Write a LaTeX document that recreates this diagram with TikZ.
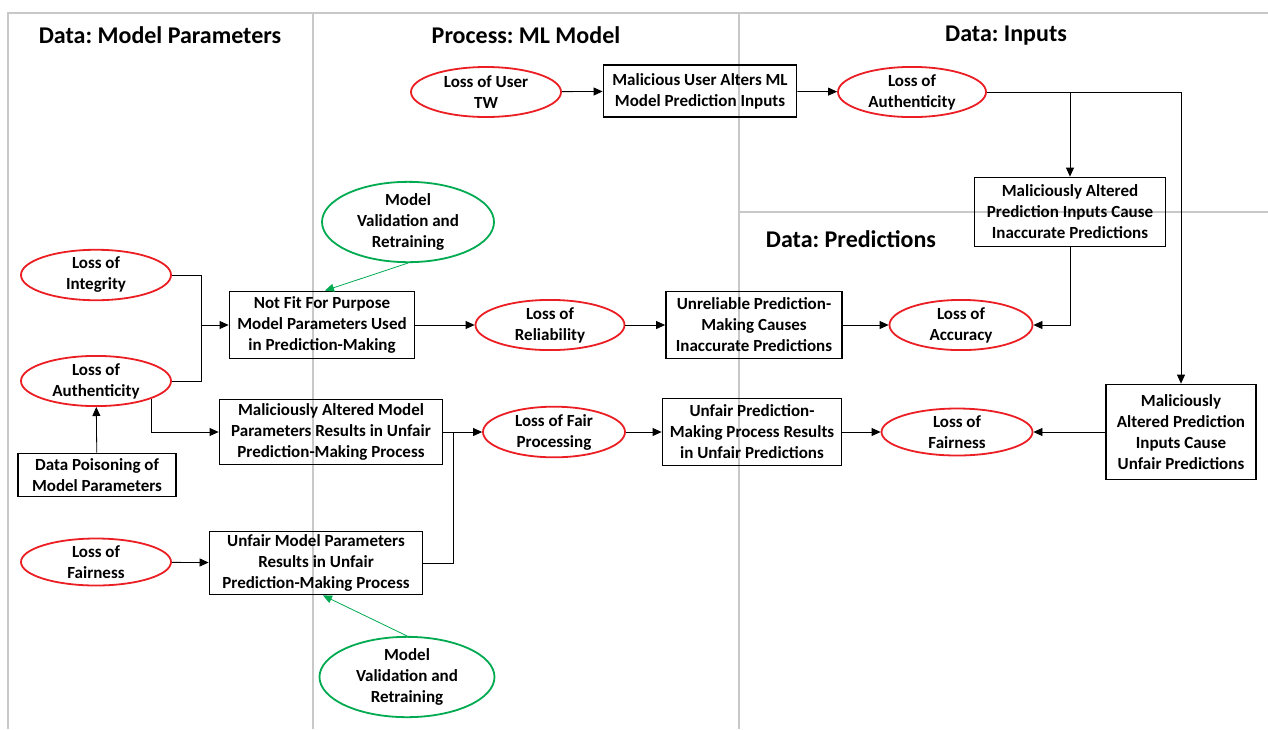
\documentclass[tikz,border=0pt]{standalone}
\usepackage{fontspec}
\setmainfont{Carlito}
\frenchspacing
\usetikzlibrary{shapes.geometric,arrows.meta,positioning}

\definecolor{lossred}{RGB}{235,30,35}
\definecolor{ctrlgreen}{RGB}{0,170,80}
\definecolor{framegray}{RGB}{200,200,200}

\tikzset{
  lossnode/.style={ellipse, draw=lossred, line width=1.8pt, inner sep=0pt, align=center,
    font=\fontsize{17}{21}\selectfont\bfseries},
  ctrlnode/.style={ellipse, draw=ctrlgreen, line width=1.8pt, inner sep=0pt, align=center,
    font=\fontsize{17}{21}\selectfont\bfseries},
  boxnode/.style={rectangle, draw=black, line width=1.8pt, inner sep=0pt, align=center,
    font=\fontsize{17}{21}\selectfont\bfseries},
  lanetitle/.style={font=\fontsize{24}{28}\selectfont\bfseries},
  flow/.style={draw=black, line width=0.8pt, -{Triangle[length=9pt,width=8pt]}},
  ctrlflow/.style={draw=ctrlgreen, line width=0.8pt, -{Triangle[length=9pt,width=8pt]}},
}

\begin{document}
\begin{tikzpicture}[x=1pt,y=-1pt]

\useasboundingbox (0,0) rectangle (1268,729);

% lanes
\draw[framegray, line width=1.5pt] (8,729) -- (8,13) -- (1268,13);
\draw[framegray, line width=1.2pt] (313,13) -- (313,729);
\draw[framegray, line width=1.2pt] (739,13) -- (739,729);
\draw[framegray, line width=1.2pt] (739,212) -- (1268,212);

\node[lanetitle] (tparams) at (160,35) {Data: Model Parameters};
\node[lanetitle] (tmodel) at (526,35) {Process: ML Model};
\node[lanetitle] (tinputs) at (1006,36) {Data: Inputs};
\node[lanetitle] (tpreds) at (851,239) {Data: Predictions};

% inputs
\node[lossnode, minimum width=150, minimum height=50] (usertw) at (486,92) {Loss of User\\TW};
\node[boxnode, minimum width=193, minimum height=52] (altin) at (700,91) {Malicious User Alters ML\\Model Prediction Inputs};
\node[lossnode, minimum width=148, minimum height=48] (authin) at (912,92) {Loss of\\Authenticity};
\node[boxnode, minimum width=191, minimum height=69] (inacc) at (1070,212) {Maliciously Altered\\Prediction Inputs Cause\\Inaccurate Predictions};
\node[boxnode, minimum width=150, minimum height=95] (unfpred) at (1181,432) {Maliciously\\Altered Prediction\\Inputs Cause\\Unfair Predictions};

% predictions
\node[lossnode, minimum width=143, minimum height=47] (acc) at (961,325) {Loss of\\Accuracy};
\node[lossnode, minimum width=151, minimum height=47] (fairout) at (957,432) {Loss of\\Fairness};
\node[boxnode, minimum width=176, minimum height=67] (unrel) at (754,325) {Unreliable Prediction-\\Making Causes\\Inaccurate Predictions};
\node[boxnode, minimum width=179, minimum height=67] (unfproc) at (752,432) {Unfair Prediction-\\Making Process Results\\in Unfair Predictions};

% model
\node[lossnode, minimum width=149, minimum height=47] (reliab) at (550,325) {Loss of\\Reliability};
\node[lossnode, minimum width=142, minimum height=47] (fairproc) at (554,432) {Loss of Fair\\Processing};
\node[boxnode, minimum width=185, minimum height=67] (notfit) at (322,325) {Not Fit For Purpose\\Model Parameters Used\\in Prediction-Making};
\node[boxnode, minimum width=223, minimum height=65] (malmod) at (331,432) {Maliciously Altered Model\\Parameters Results in Unfair\\Prediction-Making Process};
\node[boxnode, minimum width=213, minimum height=63] (unfmod) at (316,563) {Unfair Model Parameters\\Results in Unfair\\Prediction-Making Process};
\node[ctrlnode, minimum width=172, minimum height=71] (valtop) at (408,222) {Model\\Validation and\\Retraining};
\node[ctrlnode, minimum width=175, minimum height=74] (valbot) at (407,677) {Model\\Validation and\\Retraining};

% parameters
\node[lossnode, minimum width=150, minimum height=47] (integ) at (96,275) {Loss of\\Integrity};
\node[lossnode, minimum width=150, minimum height=48] (authl) at (96,381) {Loss of\\Authenticity};
\node[boxnode, minimum width=158, minimum height=43] (poison) at (97,475) {Data Poisoning of\\Model Parameters};
\node[lossnode, minimum width=150, minimum height=47] (fairl) at (96,562) {Loss of\\Fairness};

\coordinate (jleft) at (201,325);
\coordinate (jmid) at (453,432);

% connectors
\draw[flow] (usertw) -- (altin);
\draw[flow] (altin) -- (authin);
\draw[flow] (authin.east) -| (inacc.north);
\draw[flow] (authin.east) -| (unfpred.north);
\draw[flow] (inacc.south) |- (acc.east);
\draw[flow] (unfpred) -- (fairout);
\draw[flow] (unrel) -- (acc);
\draw[flow] (unfproc) -- (fairout);
\draw[flow] (reliab) -- (unrel);
\draw[flow] (fairproc) -- (unfproc);
\draw[flow] (notfit) -- (reliab);
\draw[flow] (malmod) -- (fairproc);
\draw[line width=0.8pt] (unfmod.east) -| (jmid);
\draw[line width=0.8pt] (integ.east) -| (jleft);
\draw[line width=0.8pt] (authl.east) -| (jleft);
\draw[flow] (jleft) -- (notfit.west);
\draw[flow] (authl.-18) |- (malmod.west);
\draw[flow] (poison) -- (authl);
\draw[flow] (fairl) -- (unfmod);
\draw[ctrlflow] (valtop.south) -- ([xshift=3pt]notfit.north);
\draw[ctrlflow] (valbot.north) -- ([xshift=7pt]unfmod.south);

\end{tikzpicture}
\end{document}
